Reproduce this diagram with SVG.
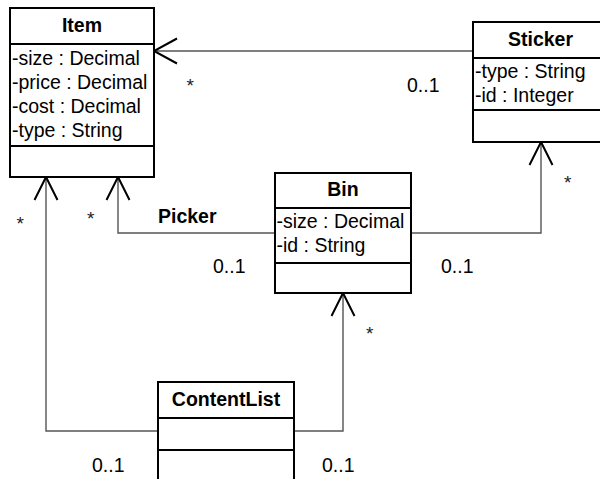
<svg xmlns="http://www.w3.org/2000/svg" width="600" height="479" viewBox="0 0 600 479">
<style>
.box{fill:#fff;stroke:#000;stroke-width:2}
.div{stroke:#000;stroke-width:2}
.t{font-family:"Liberation Sans",Arial,sans-serif;font-size:19.5px;fill:#000}
.b{font-weight:bold;text-anchor:middle}
.c{fill:none;stroke:#555;stroke-width:1.4}
.ah{fill:none;stroke:#000;stroke-width:2}
.m{font-family:"Liberation Sans",Arial,sans-serif;font-size:19px;fill:#222}
</style>
<rect width="600" height="479" fill="#fff"/>
<g id="connectors">
  <path class="c" d="M473,51 H154"/>
  <path class="ah" d="M177,38.5 L154,51 L177,63.5"/>
  <path class="c" d="M275,233 H118 V177"/>
  <path class="ah" d="M106.5,200 L118,177 L129.5,200"/>
  <path class="c" d="M158,431 H46 V177"/>
  <path class="ah" d="M34.5,200 L46,177 L57.5,200"/>
  <path class="c" d="M294,431 H343 V293"/>
  <path class="ah" d="M331.5,316 L343,293 L354.5,316"/>
  <path class="c" d="M411,233 H541 V142"/>
  <path class="ah" d="M529.5,165 L541,142 L552.5,165"/>
  <text class="m" x="186.5" y="92">*</text>
  <text class="t" x="407" y="92">0..1</text>
  <text class="t" x="158" y="223" font-weight="bold">Picker</text>
  <text class="m" x="87" y="224.5">*</text>
  <text class="m" x="16.5" y="229.5">*</text>
  <text class="t" x="213" y="273">0..1</text>
  <text class="t" x="441" y="273">0..1</text>
  <text class="m" x="564" y="189">*</text>
  <text class="m" x="366" y="340">*</text>
  <text class="t" x="92" y="472">0..1</text>
  <text class="t" x="322" y="472">0..1</text>
</g>
<g id="Item">
  <rect class="box" x="10" y="8" width="144" height="169"/>
  <line class="div" x1="10" y1="44" x2="154" y2="44"/>
  <line class="div" x1="10" y1="146" x2="154" y2="146"/>
  <text class="t b" x="82" y="32">Item</text>
  <text class="t" x="12" y="65">-size : Decimal</text>
  <text class="t" x="12" y="89">-price : Decimal</text>
  <text class="t" x="12" y="113">-cost : Decimal</text>
  <text class="t" x="12" y="137">-type : String</text>
</g>
<g id="Sticker">
  <rect class="box" x="473" y="22" width="135" height="120"/>
  <line class="div" x1="473" y1="58" x2="608" y2="58"/>
  <line class="div" x1="473" y1="110" x2="608" y2="110"/>
  <text class="t b" x="540.5" y="45.5">Sticker</text>
  <text class="t" x="475" y="78">-type : String</text>
  <text class="t" x="475" y="102">-id : Integer</text>
</g>
<g id="Bin">
  <rect class="box" x="275" y="173" width="136" height="120"/>
  <line class="div" x1="275" y1="208" x2="411" y2="208"/>
  <line class="div" x1="275" y1="263" x2="411" y2="263"/>
  <text class="t b" x="343" y="196">Bin</text>
  <text class="t" x="276.5" y="227.5">-size : Decimal</text>
  <text class="t" x="276.5" y="251.5">-id : String</text>
</g>
<g id="ContentList">
  <rect class="box" x="158" y="382" width="136" height="110"/>
  <line class="div" x1="158" y1="418" x2="294" y2="418"/>
  <line class="div" x1="158" y1="450" x2="294" y2="450"/>
  <text class="t b" x="226" y="405.5">ContentList</text>
</g>
</svg>
